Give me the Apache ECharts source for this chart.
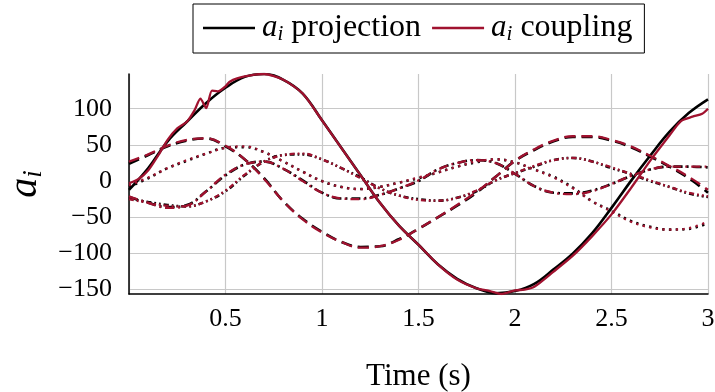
<!DOCTYPE html>
<html lang="en">
<head>
<meta charset="UTF-8">
<title>a_i projection vs coupling</title>
<style>
  html, body { margin: 0; padding: 0; background: #fff; }
  #chart { width: 715px; height: 392px; }
</style>
</head>
<body>
<div id="chart"></div>
<script src="https://cdn.jsdelivr.net/npm/echarts@6/dist/echarts.min.js"></script>
<script>
// time samples (s)
var times = [0, 0.1, 0.2, 0.3, 0.4, 0.5, 0.6, 0.7, 0.8, 0.9, 1.0,
             1.1, 1.2, 1.3, 1.4, 1.5, 1.6, 1.7, 1.8, 1.9, 2.0,
             2.1, 2.2, 2.3, 2.4, 2.5, 2.6, 2.7, 2.8, 2.9, 3.0];

// projection (black)
var projA = [-12, 18, 55, 82, 108, 129, 144, 148, 140, 121, 84, 46, 8, -30, -62, -88, -115, -135, -148, -155, -152, -142, -122, -100, -72, -37, 0, 35, 68, 94, 113];
var projB = [24, 36, 48, 56, 59, 48, 30, 4, -28, -52, -70, -84, -91, -90, -80, -66, -50, -34, -16, 6, 28, 43, 55, 61, 61, 56, 47, 34, 20, 4, -16];
var projC = [-8, 4, 18, 28, 38, 46, 47, 40, 27, 13, 0, -8, -11, -8, -2, 4, 12, 20, 26, 30, 26, 16, 6, -9, -28, -41, -55, -63, -67, -66, -58];
var projD = [-24, -29, -33, -35, -28, -14, 8, 27, 36, 37, 30, 18, 5, -10, -20, -25, -27, -23, -14, 1, 11, 20, 29, 32, 27, 18, 10, 0, -8, -17, -22];
var projE = [-22, -30, -36, -33, -14, 8, 23, 27, 17, 1, -16, -24, -24, -19, -10, 0, 16, 25, 29, 25, 10, -7, -16, -17, -13, -4, 7, 16, 20, 20, 19];

// coupling (red) - main mode has its own finer samples because of the wiggles
var timesCoupA = [0, 0.05, 0.1, 0.15, 0.2, 0.25, 0.3, 0.34, 0.37, 0.4, 0.43, 0.46, 0.5, 0.52, 0.56, 0.65, 0.7, 0.8, 0.9, 1.0,
                  1.1, 1.2, 1.3, 1.4, 1.5, 1.6, 1.7, 1.8, 1.87, 1.93, 2.0, 2.05, 2.1, 2.2, 2.3, 2.4, 2.5, 2.6, 2.7, 2.8, 2.86, 2.92, 2.97, 3.0];
var coupA = [-3, 3, 15, 35, 57, 73, 82, 98, 114, 101, 125, 124, 131, 137, 142, 147, 148, 140, 121, 84,
             46, 8, -30, -62, -88, -115, -136, -148, -152, -156, -151, -150, -146, -125, -103, -76, -46, -10, 28, 63, 83, 89, 93, 100];
var coupB = [27, 37, 49, 57, 59, 49, 30, 3, -28, -53, -71, -84, -92, -90, -81, -66, -50, -33, -15, 6, 28, 44, 56, 62, 62, 57, 48, 35, 21, 6, -12];
var coupC = [-6, 5, 18, 29, 38, 46, 48, 40, 27, 13, 0, -8, -11, -8, -2, 5, 12, 20, 27, 30, 26, 16, 5, -10, -28, -42, -56, -64, -67, -65, -56];
var coupD = [-25, -30, -34, -35, -28, -13, 9, 27, 36, 38, 30, 18, 4, -10, -20, -26, -27, -23, -13, 1, 11, 21, 29, 32, 27, 19, 10, 1, -8, -16, -21];
var coupE = [-21, -30, -37, -34, -14, 9, 23, 27, 17, 0, -16, -24, -25, -19, -10, 1, 16, 25, 29, 25, 10, -7, -16, -18, -14, -4, 7, 16, 20, 20, 20];

var yTicks = [-150, -100, -50, 0, 50, 100];

var RED = '#a0122f';
var serif = 'Liberation Serif';

function pairs(ts, vs) {
    return ts.map(function (t, i) { return [t, vs[i]]; });
}

function line(name, color, width, type, ts, vs, smooth) {
    return {
        name: name,
        type: 'line',
        data: pairs(ts, vs),
        symbol: 'none',
        smooth: smooth,
        animation: false,
        lineStyle: { color: color, width: width, type: type },
        itemStyle: { color: color }
    };
}

var dashed = [11, 6];
var dotted = [2.2, 4.5];
var dashDotDot = [5, 3, 1.8, 3, 1.8, 3];
var dashDot = [9, 4, 2, 4];

var series = [
    line('projection', '#000', 2.6, 'solid', times, projA, 0.4),
    line('projection', '#000', 2.6, dashed, times, projB, 0.4),
    line('projection', '#000', 2.6, dotted, times, projC, 0.4),
    line('projection', '#000', 2.6, dashDotDot, times, projD, 0.4),
    line('projection', '#000', 2.6, dashDot, times, projE, 0.4),
    line('coupling', RED, 2.3, 'solid', timesCoupA, coupA, 0.25),
    line('coupling', RED, 2.3, dashed, times, coupB, 0.4),
    line('coupling', RED, 2.3, dotted, times, coupC, 0.4),
    line('coupling', RED, 2.3, dashDotDot, times, coupD, 0.4),
    line('coupling', RED, 2.3, dashDot, times, coupE, 0.4)
];

function subRich(size, textSize) {
    return {
        a: { fontFamily: serif, fontSize: size, fontStyle: 'italic', color: '#000' },
        i: { fontFamily: serif, fontSize: Math.round(size * 0.68), fontStyle: 'italic', color: '#000', padding: [Math.round(size * 0.42), 0, 0, 0] },
        t: { fontFamily: serif, fontSize: textSize, color: '#000', padding: [0, 0, 0, 8] }
    };
}

var chart = echarts.init(document.getElementById('chart'), null, { renderer: 'canvas' });
chart.setOption({
    backgroundColor: '#fff',
    animation: false,
    grid: { left: 129, right: 7, top: 74, bottom: 98, containLabel: false, outerBoundsMode: 'none' },
    legend: {
        data: [
            { name: 'projection', icon: 'rect' },
            { name: 'coupling', icon: 'rect' }
        ],
        left: 193,
        top: 4,
        orient: 'horizontal',
        itemWidth: 52,
        itemHeight: 2.5,
        itemGap: 11,
        padding: [8, 12, 8, 10],
        borderColor: '#000',
        borderWidth: 1,
        borderRadius: 0,
        selectedMode: false,
        formatter: function (name) {
            return '{a|a}{i|i}{t|' + name + '}';
        },
        textStyle: { rich: subRich(31, 32), padding: [0, 0, 0, 2] }
    },
    xAxis: {
        type: 'value',
        min: 0,
        max: 3,
        interval: 0.5,
        name: 'Time (s)',
        nameLocation: 'middle',
        nameGap: 67,
        nameTextStyle: { fontFamily: serif, fontSize: 31, color: '#000' },
        axisLine: { show: true, onZero: false, lineStyle: { color: '#000', width: 1.5 } },
        axisTick: { show: false },
        splitLine: { show: true, lineStyle: { color: '#c8c8c8', width: 1.2 } },
        axisLabel: {
            showMinLabel: false,
            margin: 12,
            fontFamily: serif,
            fontSize: 26,
            color: '#000'
        }
    },
    yAxis: {
        type: 'value',
        min: -156,
        max: 148,
        splitNumber: 5,
        name: '{a|a}{i|i}',
        nameLocation: 'middle',
        nameRotate: 90,
        nameGap: 80,
        nameTextStyle: { rich: subRich(40, 40) },
        axisLine: { show: true, onZero: false, lineStyle: { color: '#000', width: 1.5 } },
        axisTick: { show: false },
        splitLine: { show: true, showMinLine: false, showMaxLine: false, lineStyle: { color: '#c8c8c8', width: 1.2 } },
        axisLabel: {
            showMinLabel: false,
            showMaxLabel: false,
            margin: 17,
            fontFamily: serif,
            fontSize: 26,
            color: '#000',
            formatter: function (v) {
                if (yTicks.indexOf(v) < 0) return '';
                return String(v).replace('-', '\u2212');
            }
        }
    },
    series: series
});
</script>
</body>
</html>
